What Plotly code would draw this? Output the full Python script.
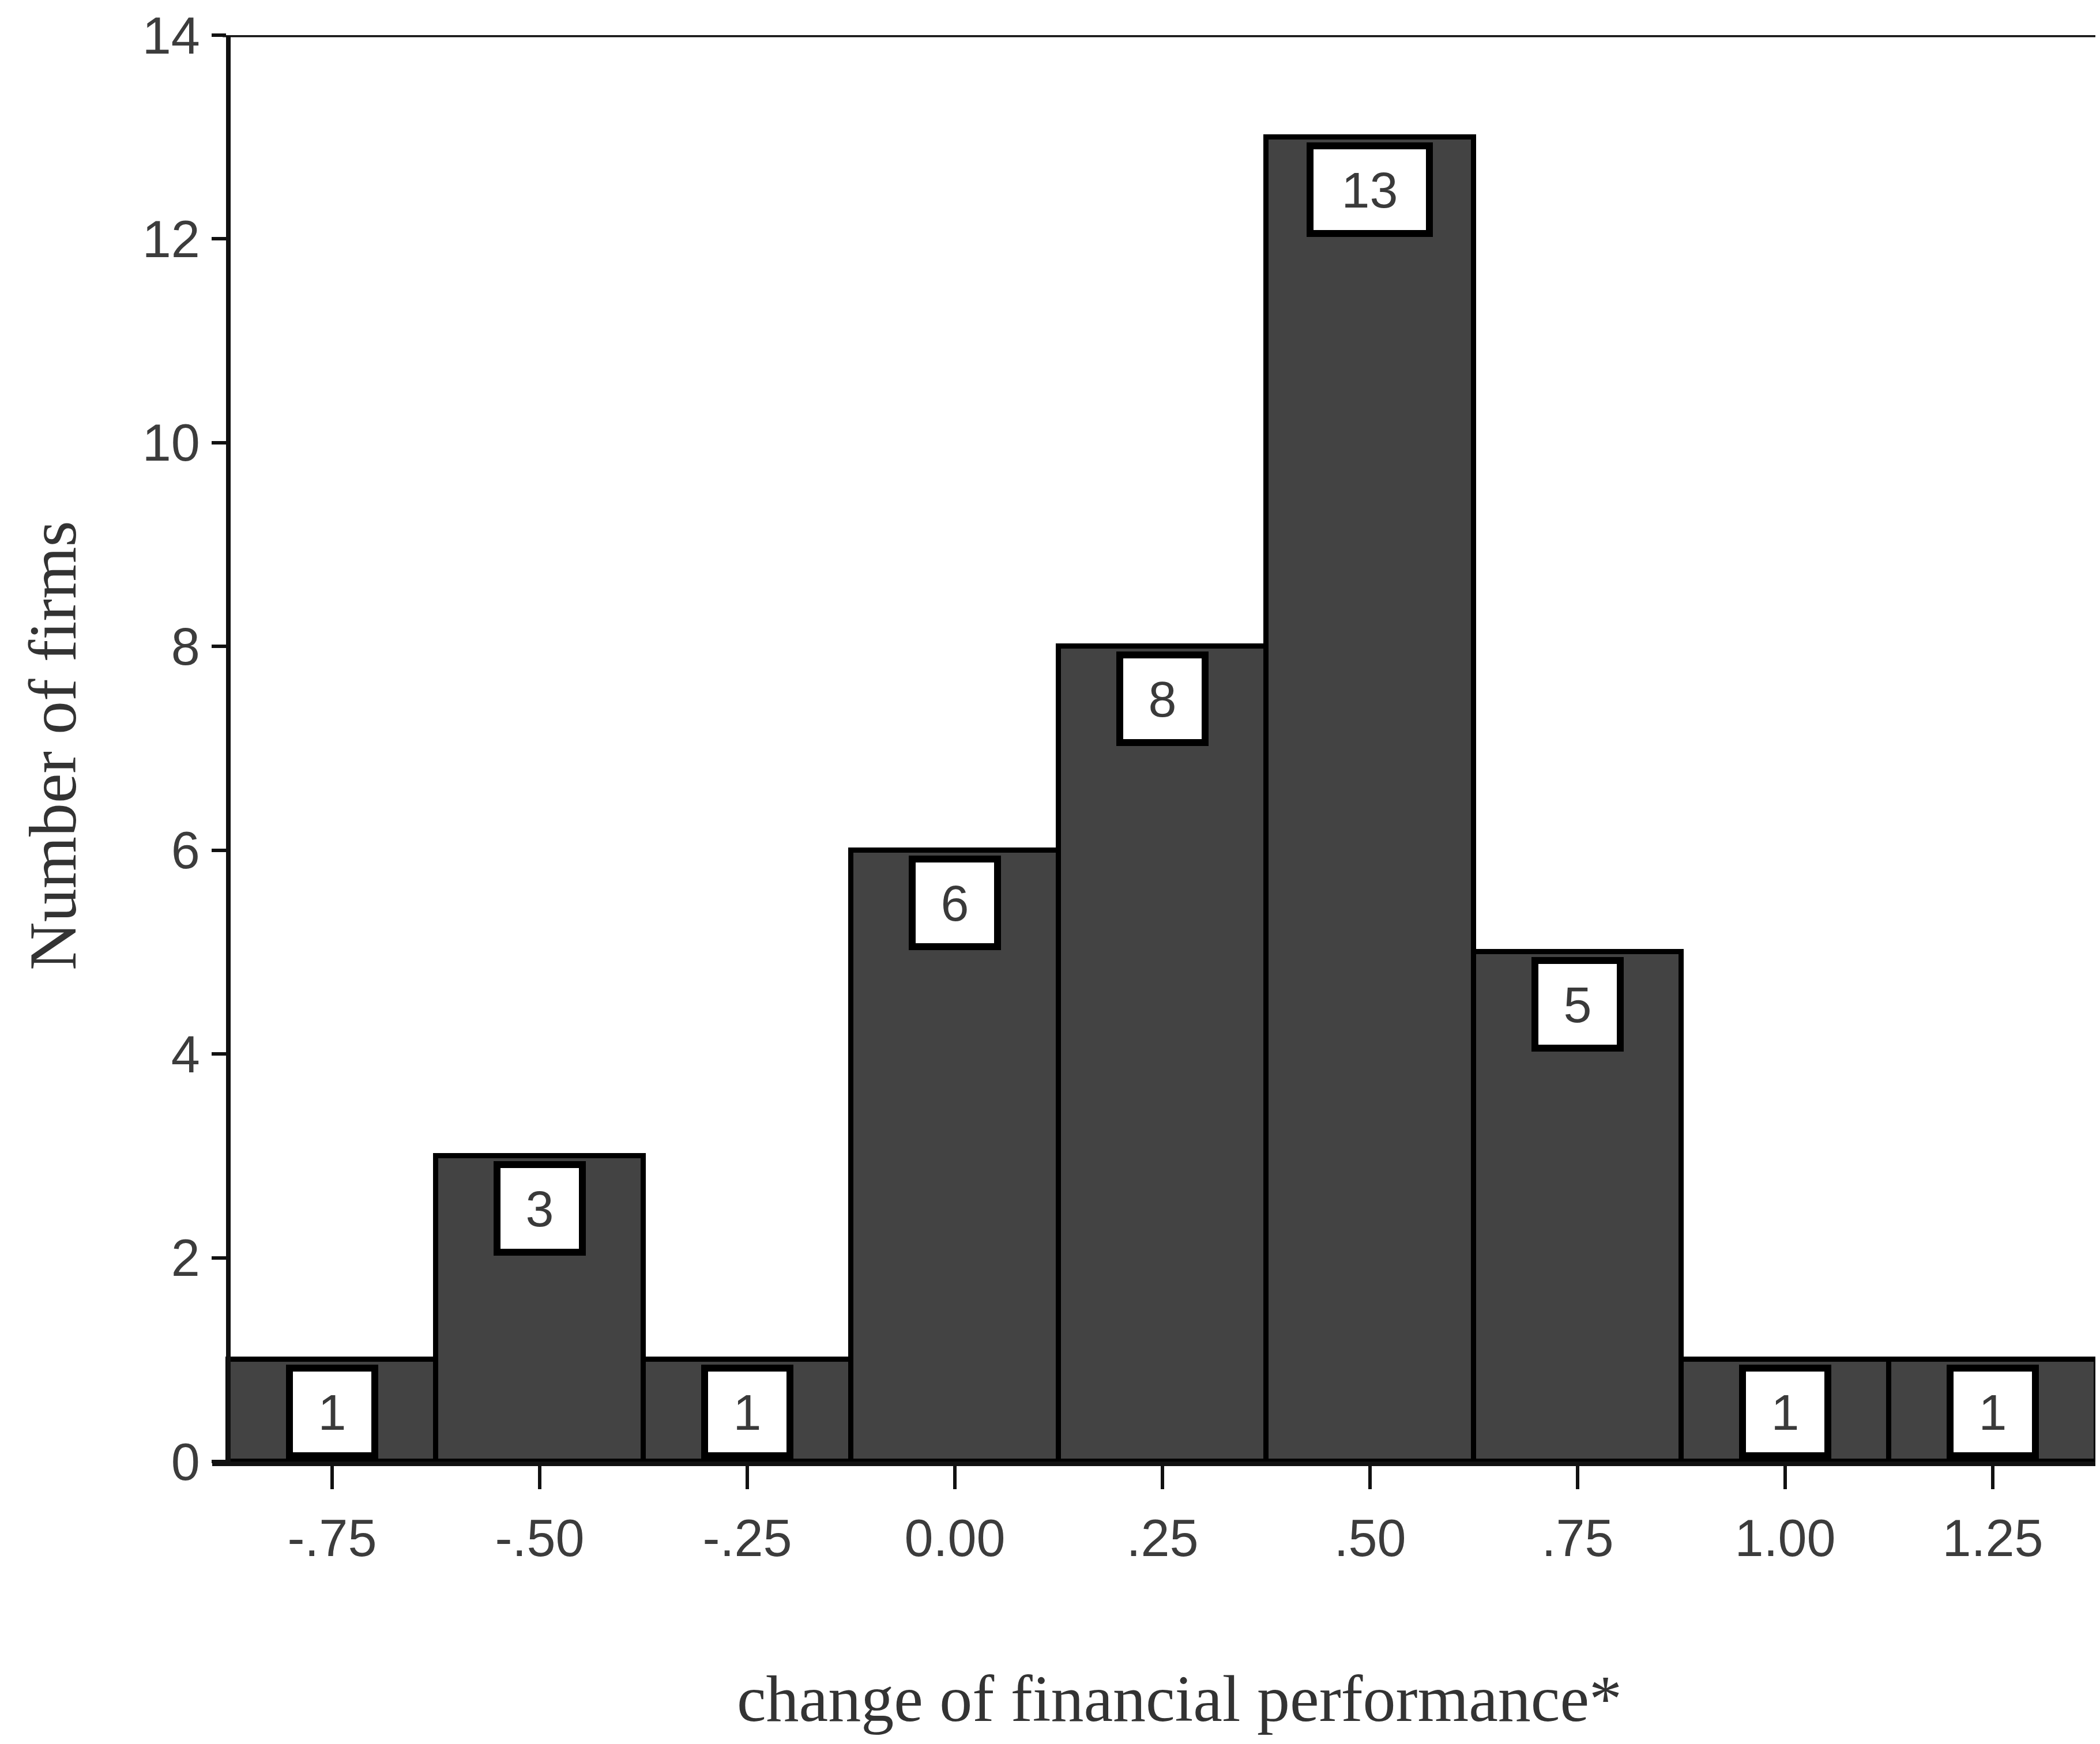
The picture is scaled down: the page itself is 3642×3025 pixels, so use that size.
import plotly.graph_objects as go

# ---- data ----
bin_centers = [-0.75, -0.50, -0.25, 0.00, 0.25, 0.50, 0.75, 1.00, 1.25]
counts = [1, 3, 1, 6, 8, 13, 5, 1, 1]
bin_width = 0.25
x_tick_vals = [-0.75, -0.50, -0.25, 0.00, 0.25, 0.50, 0.75, 1.00, 1.25]
x_tick_text = ["-.75", "-.50", "-.25", "0.00", ".25", ".50", ".75", "1.00", "1.25"]
y_tick_vals = [0, 2, 4, 6, 8, 10, 12, 14]
x_title = "change of financial performance*"
y_title = "Number of firms"

# ---- layout geometry (pixels) ----
W, H = 3642, 3025
L, R, T, B = 360, 0, 53, 498
PW, PH = W - L - R, H - T - B
X_RANGE = [-0.8944, 1.3847]
Y_RANGE = [0, 14]


def paper_x(px):
    return (px - L) / PW


def paper_y(py):
    return (H - B - py) / PH


yaxis_pos = (bin_centers[0] - bin_width / 2 - X_RANGE[0]) / (X_RANGE[1] - X_RANGE[0])

fig = go.Figure()
fig.add_trace(go.Bar(
    x=bin_centers,
    y=counts,
    width=[bin_width] * len(counts),
    marker=dict(color="#434343", line=dict(color="#000000", width=9)),
    showlegend=False,
    hoverinfo="x+y",
))

annotations = []
for xc, c in zip(bin_centers, counts):
    txt = str(c)
    annotations.append(dict(
        x=xc, y=c, xref="x", yref="y",
        text=txt, showarrow=False,
        xanchor="center", yanchor="top", yshift=-9,
        width=136 if len(txt) == 1 else 195, height=140,
        bgcolor="#ffffff", bordercolor="#000000", borderwidth=12, borderpad=0,
        font=dict(family="Liberation Sans, Arial, sans-serif", size=88, color="#3a3a3a"),
        align="center", valign="middle",
    ))

annotations.append(dict(
    x=paper_x(2037), y=paper_y(2938), xref="paper", yref="paper",
    text=x_title, showarrow=False, xanchor="center", yanchor="middle",
    font=dict(family="Liberation Serif, Times New Roman, serif", size=114, color="#333333"),
))
annotations.append(dict(
    x=paper_x(84), y=paper_y(1285), xref="paper", yref="paper",
    text=y_title, showarrow=False, xanchor="center", yanchor="middle", textangle=-90,
    font=dict(family="Liberation Serif, Times New Roman, serif", size=116, color="#333333"),
))

fig.update_layout(
    width=W, height=H,
    margin=dict(l=L, r=R, t=T, b=B, pad=0),
    paper_bgcolor="#ffffff", plot_bgcolor="#ffffff",
    bargap=0,
    annotations=annotations,
    shapes=[dict(
        type="line", xref="paper", yref="y",
        x0=yaxis_pos - 0.003, x1=1.0, y0=14, y1=14,
        line=dict(color="#111111", width=7), layer="above",
    )],
    xaxis=dict(
        range=X_RANGE, domain=[0, 1],
        tickmode="array", tickvals=x_tick_vals, ticktext=x_tick_text,
        ticks="outside", ticklen=40, tickwidth=6, tickcolor="#111111",
        showline=True, linecolor="#111111", linewidth=8,
        showgrid=False, zeroline=False,
        tickfont=dict(family="Liberation Sans, Arial, sans-serif", size=90, color="#3c3c3c"),
        ticklabelstandoff=8,
    ),
    yaxis=dict(
        range=Y_RANGE, anchor="free", position=yaxis_pos,
        tickmode="array", tickvals=y_tick_vals,
        ticks="outside", ticklen=25, tickwidth=6, tickcolor="#111111",
        showline=True, linecolor="#111111", linewidth=8,
        showgrid=False, zeroline=False,
        tickfont=dict(family="Liberation Sans, Arial, sans-serif", size=90, color="#3c3c3c"),
        ticklabelstandoff=2,
    ),
)

fig.write_html("out.html")
